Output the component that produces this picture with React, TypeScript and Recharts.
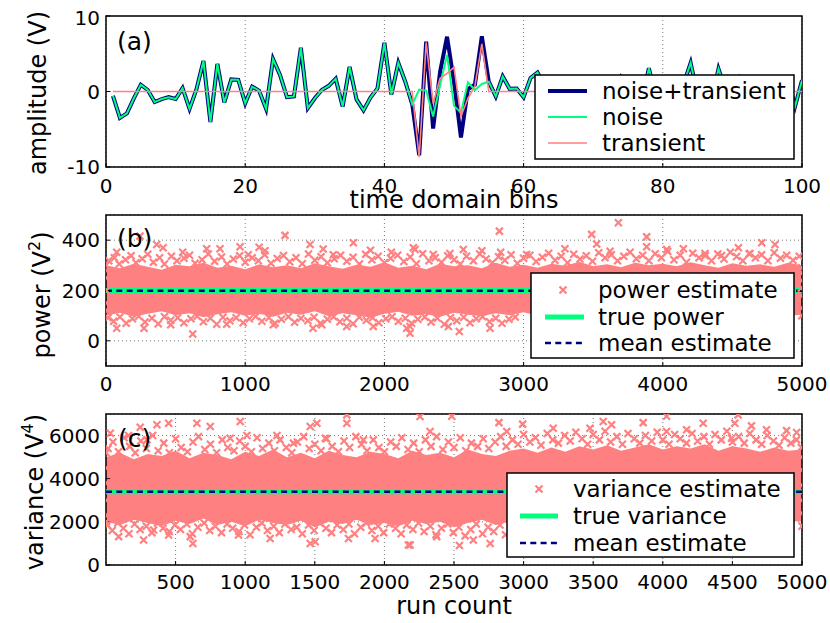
import { LineChart, Line, ComposedChart, Area, Scatter, XAxis, YAxis, CartesianGrid, ReferenceLine, ReferenceArea } from "recharts"

const FONT = "'DejaVu Sans', sans-serif"
const PINK = "#ff8080"
const NAVY = "#00007f"
const GREEN = "#00ff7f"

// (a) time domain bins 1..100
const noise = [
  -0.57, -3.5, -2.9, -0.9, 0.9, 0.2, -1.4, -1.0, -0.75, -1.0,
  0.45, -2.3, 0.3, 4.05, -4.05, 3.65, -1.45, 1.6, 1.55, -1.55,
  0.65, 0.1, -2.3, 4.3, 2.2, -0.75, -0.65, 5.8, -2.2, -0.9,
  0.2, 0.75, 1.7, -2.0, 3.25, -1.05, -2.5, -0.8, 0.4, 6.45,
  -0.4, 3.8, 1.3, -1.7, 0.25, 0.1, -3.3, 0.85, 4.85, -1.9,
  -2.8, 1.2, 0.2, 1.0, 1.3, -0.65, 2.0, 0.35, 0.4, -0.75,
  1.8, 2.5, 0.8, -1.2, 0.5, -0.6, 1.4, -1.8, 0.3, 1.1,
  -0.9, 0.6, -1.5, 1.7, -0.4, 0.9, -1.1, 3.1, -0.8, 1.2,
  -1.6, 0.4, 1.0, 3.8, -0.5, 1.3, -1.2, 3.0, 0.2, -1.4,
  1.6, -0.7, 0.8, -1.9, 1.1, 0.3, -1.0, 1.4, -2.0, 1.5,
]
const transient = [
  0, 0, 0, 0, 0, 0, 0, 0, 0, 0,
  0, 0, 0, 0, 0, 0, 0, 0, 0, 0,
  0, 0, 0, 0, 0, 0, 0, 0, 0, 0,
  0, 0, 0, 0, 0, 0, 0, 0, 0, 0,
  0, 0, 0, 0, -8.7, 6.5, -1.6, 1.75, 2.4, 3.2,
  -3.3, -0.9, 0.7, 6.3, 0, 0, 0, 0, 0, 0,
  0, 0, 0, 0, 0, 0, 0, 0, 0, 0,
  0, 0, 0, 0, 0, 0, 0, 0, 0, 0,
  0, 0, 0, 0, 0, 0, 0, 0, 0, 0,
  0, 0, 0, 0, 0, 0, 0, 0, 0, 0,
]
const binTicks = [0, 20, 40, 60, 80, 100]
const ampTicks = [-10, 0, 10]

// (b), (c) run count; saturated core of the cloud, read every 100 runs
const bandRuns = [
  0, 100, 200, 300, 400, 500, 600, 700, 800, 900, 1000, 1100, 1200, 1300, 1400, 1500, 1600, 1700, 1800, 1900,
  2000, 2100, 2200, 2300, 2400, 2500, 2600, 2700, 2800, 2900, 3000, 3100, 3200, 3300, 3400, 3500, 3600, 3700, 3800, 3900,
  4000, 4100, 4200, 4300, 4400, 4500, 4600, 4700, 4800, 4900, 5000,
]
const powerBandLow = [
  100, 112, 96, 108, 118, 102, 110, 94, 106, 114, 100, 108, 96, 112, 104, 118, 98, 110, 102, 92,
  108, 116, 100, 106, 96, 112, 104, 98, 110, 102, 114, 100, 108, 96, 104, 112, 100, 108, 98, 110,
  104, 96, 112, 100, 108, 102, 114, 98, 106, 100, 104,
]
const powerBandHigh = [
  300, 288, 306, 294, 282, 302, 296, 310, 290, 298, 284, 304, 292, 300, 288, 308, 296, 286, 302, 294,
  312, 290, 298, 284, 306, 296, 300, 288, 310, 294, 302, 290, 306, 298, 314, 296, 304, 292, 310, 300,
  306, 296, 312, 300, 290, 308, 298, 304, 294, 310, 300,
]
const varBandLow = [
  2000, 1850, 2100, 1950, 1800, 2050, 1900, 2150, 1850, 2000, 1800, 2100, 1950, 1850, 2050, 1750, 2000, 1900, 2100, 1850,
  1950, 1800, 2050, 1900, 2000, 1750, 1950, 2100, 1850, 2000, 1900, 2050, 1950, 2150, 1900, 2000, 1850, 2050, 1950, 2100,
  1900, 2000, 2150, 1950, 2050, 1900, 2100, 2000, 1950, 2050, 2000,
]
const varBandHigh = [
  5000, 5200, 4900, 5150, 5050, 5300, 4950, 5200, 5100, 4900, 5250, 5050, 5350, 5000, 5200, 4950, 5300, 5100, 5000, 5250,
  5150, 4950, 5300, 5100, 5200, 5000, 5350, 5150, 5050, 5300, 5400, 5200, 5450, 5250, 5500, 5350, 5550, 5300, 5450, 5600,
  5350, 5500, 5400, 5600, 5300, 5500, 5400, 5250, 5450, 5300, 5350,
]

const powerUpper = [
  [20, 318], [60, 330], [95, 305], [140, 322], [180, 338], [215, 310], [260, 326], [300, 344], [340, 312], [385, 330],
  [420, 305], [470, 336], [510, 318], [560, 328], [600, 340], [640, 308], [690, 322], [735, 345], [780, 316], [830, 333],
  [870, 305], [915, 325], [960, 338], [1000, 312], [1050, 330], [1095, 318], [1140, 342], [1185, 308], [1230, 327], [1275, 339],
  [1320, 314], [1365, 330], [1410, 306], [1455, 345], [1500, 320], [1545, 334], [1590, 310], [1640, 326], [1685, 340], [1730, 316],
  [1775, 332], [1820, 305], [1865, 344], [1910, 322], [1955, 336], [2000, 310], [2045, 328], [2095, 340], [2140, 315], [2185, 333],
  [2230, 306], [2275, 346], [2320, 318], [2365, 330], [2410, 312], [2455, 338], [2500, 322], [2545, 305], [2590, 336], [2640, 318],
  [2685, 345], [2730, 325], [2775, 310], [2820, 334], [2865, 320], [2910, 342], [2955, 308], [3000, 328], [3045, 340], [3090, 315],
  [3135, 332], [3180, 348], [3225, 320], [3270, 336], [3315, 310], [3360, 344], [3405, 325], [3450, 338], [3495, 316], [3540, 350],
  [3585, 330], [3630, 342], [3675, 318], [3720, 336], [3765, 352], [3810, 326], [3855, 340], [3900, 318], [3945, 346], [3990, 330],
  [4035, 355], [4080, 322], [4125, 340], [4170, 312], [4215, 348], [4260, 330], [4305, 338], [4350, 318], [4395, 345], [4440, 325],
  [4485, 352], [4530, 335], [4575, 318], [4620, 346], [4665, 330], [4710, 342], [4755, 318], [4800, 350], [4845, 328], [4890, 340],
  [4935, 320], [4980, 336],
]
const powerLower = [
  [15, 92], [55, 78], [100, 95], [145, 70], [190, 88], [235, 98], [280, 75], [330, 90], [375, 68], [420, 96],
  [465, 82], [515, 92], [560, 72], [610, 88], [655, 98], [700, 76], [750, 90], [795, 66], [840, 94], [890, 80],
  [935, 92], [985, 72], [1030, 88], [1075, 97], [1120, 78], [1170, 92], [1215, 70], [1260, 86], [1310, 96], [1355, 74],
  [1400, 90], [1450, 80], [1495, 94], [1540, 70], [1590, 86], [1635, 96], [1680, 76], [1730, 90], [1775, 68], [1820, 94],
  [1870, 82], [1915, 92], [1960, 72], [2010, 88], [2055, 96], [2100, 78], [2150, 90], [2195, 70], [2240, 86], [2290, 95],
  [2335, 75], [2380, 90], [2430, 66], [2475, 92], [2520, 80], [2570, 94], [2615, 72], [2660, 88], [2705, 96], [2755, 76],
  [2800, 90], [2845, 70], [2895, 86], [2940, 95],
]
const powerOutliers = [
  [77, 352], [244, 416], [364, 383], [410, 370], [551, 352], [723, 366], [819, 366], [963, 374], [1022, 342], [1100, 372],
  [1142, 358], [1286, 419], [1466, 383], [1560, 365], [1633, 342], [1777, 390], [1900, 360], [2050, 352], [2208, 370], [2220, 363],
  [2351, 343], [2471, 347], [2567, 363], [2700, 358], [2826, 436], [2835, 352], [3022, 343], [3297, 366], [3489, 423], [3525, 385],
  [3621, 356], [3681, 469], [3884, 413], [3884, 374], [4028, 363], [4148, 366], [4303, 347], [4422, 339], [4543, 370], [4626, 347],
  [4711, 390], [4806, 383],
  [77, 50], [273, 50], [465, 64], [623, 27], [867, 66], [1202, 64], [1487, 50], [1550, 64], [1729, 57], [1920, 57],
  [2160, 50], [2184, 30], [2184, 57], [2460, 57], [2538, 37], [2759, 50],
  [0, 300], [2, 250], [1, 200], [3, 150], [0, 120], [2, 280],
  [4996, 290], [4998, 240], [5000, 180], [4997, 130], [4999, 100], [5000, 270], [4995, 210],
]

const varUpper = [
  [15, 5400], [50, 5700], [90, 5250], [130, 5900], [170, 5500], [210, 5200], [250, 5750], [290, 5400], [335, 6000], [375, 5300],
  [415, 5650], [455, 5200], [500, 5850], [540, 5450], [585, 5250], [625, 5700], [665, 5950], [710, 5350], [750, 5600], [795, 5200],
  [835, 5800], [875, 5450], [920, 5300], [960, 5750], [1000, 5500], [1045, 5250], [1085, 5900], [1125, 5400], [1170, 5650], [1210, 5300],
  [1250, 5800], [1295, 5450], [1335, 5200], [1375, 5700], [1420, 5950], [1460, 5400], [1500, 5600], [1545, 5300], [1585, 5850], [1625, 5500],
  [1670, 5250], [1710, 5750], [1750, 5450], [1795, 5950], [1835, 5600], [1875, 5300], [1920, 5800], [1960, 5450], [2000, 5250], [2045, 5700],
  [2085, 5500], [2125, 5900], [2170, 5350], [2210, 5650], [2250, 5250], [2295, 5800], [2335, 5500], [2375, 5950], [2420, 5350], [2460, 5700],
  [2500, 5450], [2545, 5900], [2585, 5300], [2625, 5650], [2670, 5500], [2710, 5850], [2750, 5400], [2795, 5700], [2835, 5950], [2875, 5500],
  [2920, 5800], [2960, 5600], [3000, 6050], [3045, 5700], [3085, 5900], [3125, 5550], [3170, 6100], [3210, 5800], [3250, 5650], [3295, 6000],
  [3335, 5750], [3375, 6150], [3420, 5850], [3460, 5600], [3500, 6050], [3545, 5800], [3585, 6200], [3625, 5700], [3670, 5950], [3710, 5600],
  [3750, 6100], [3795, 5850], [3835, 5650], [3875, 6000], [3920, 5750], [3960, 6150], [4000, 5800], [4045, 5600], [4085, 6050], [4125, 5850],
  [4170, 5650], [4210, 6100], [4250, 5750], [4295, 5950], [4335, 5600], [4375, 6050], [4420, 5800], [4460, 6200], [4500, 5700], [4545, 5950],
  [4585, 5650], [4625, 6100], [4670, 5800], [4710, 5600], [4750, 6000], [4795, 5750], [4835, 5550], [4875, 5900], [4920, 5650], [4960, 5800],
  [4995, 5450],
]
const varLower = [
  [10, 1850], [45, 1600], [85, 1950], [125, 1700], [165, 1450], [205, 1900], [245, 1650], [290, 1800], [330, 1500], [370, 1950],
  [410, 1700], [455, 1550], [495, 1850], [535, 1650], [580, 1900], [620, 1450], [660, 1750], [705, 1950], [745, 1600], [785, 1800],
  [830, 1500], [870, 1900], [910, 1700], [955, 1550], [995, 1850], [1035, 1400], [1080, 1750], [1120, 1950], [1160, 1600], [1205, 1800],
  [1245, 1500], [1285, 1900], [1330, 1650], [1370, 1750], [1410, 1450], [1455, 1850], [1495, 1600], [1535, 1950], [1580, 1700], [1620, 1500],
  [1660, 1850], [1705, 1650], [1745, 1900], [1785, 1450], [1830, 1750], [1870, 1950], [1910, 1600], [1955, 1800], [1995, 1500], [2035, 1900],
  [2080, 1700], [2120, 1450], [2160, 1850], [2205, 1650], [2245, 1950], [2285, 1550], [2330, 1800], [2370, 1400], [2410, 1700], [2455, 1900],
  [2495, 1500], [2535, 1750], [2580, 1350], [2620, 1650], [2660, 1900], [2705, 1450], [2745, 1750], [2785, 1550], [2830, 1850], [2870, 1400],
]
const varOutliers = [
  [31, 6110], [162, 6000], [246, 6390], [294, 5800], [366, 6500], [450, 6575], [653, 6575], [749, 6420], [892, 5880], [964, 6650],
  [1012, 6000], [1228, 6000], [1347, 5650], [1467, 6420], [1515, 6575], [1575, 5880], [1730, 6575], [1730, 6960], [1849, 5800], [2256, 6880],
  [2328, 6190], [2484, 6900], [2823, 6600], [2879, 6190], [2993, 6530], [3213, 6340], [3477, 6340], [3572, 6650], [3632, 6500], [3859, 6600],
  [4027, 6900], [4027, 6190], [4171, 6270], [4290, 6575], [4494, 5880], [4517, 6575], [4541, 6960], [4637, 6450], [4745, 6270], [4889, 6230],
  [4961, 6140],
  [91, 1315], [270, 1160], [342, 1620], [450, 1390], [605, 1315], [624, 1000], [952, 1390], [1179, 1230], [1467, 1000], [1503, 1080],
  [1742, 1230], [1933, 1230], [2172, 930], [2185, 930], [2376, 1315], [2539, 900], [2639, 1160], [2760, 1000],
  [0, 5200], [2, 4500], [1, 3800], [3, 3000], [0, 2300], [2, 2000],
  [4996, 5000], [4998, 4400], [5000, 3700], [4997, 3000], [4999, 2400], [5000, 1800],
]

const truePower = 200
const meanPower = 199.5
const trueVariance = 3400
const meanVariance = 3395
const runTicksB = [0, 1000, 2000, 3000, 4000, 5000]
const runTicksC = [500, 1000, 1500, 2000, 2500, 3000, 3500, 4000, 4500, 5000]
const powerTicks = [0, 200, 400]
const varTicks = [0, 2000, 4000, 6000]

const waveData = noise.map((n, i) => ({ bin: i + 1, noise: n, transient: transient[i], both: n + transient[i] }))
const powerBand = bandRuns.map((run, i) => ({ run, band: [powerBandLow[i], powerBandHigh[i]] }))
const varBand = bandRuns.map((run, i) => ({ run, band: [varBandLow[i], varBandHigh[i]] }))
const toPoints = (list: number[][]) => list.map(([run, value]) => ({ run, value }))
const powerPoints = toPoints([...powerUpper, ...powerLower, ...powerOutliers])
const varPoints = toPoints([...varUpper, ...varLower, ...varOutliers])

const tickStyle = { fontSize: 20, fill: "#000", fontFamily: FONT }
const tickLine = { stroke: "#000", strokeWidth: 1 }
const noTick = () => <g />
const grid = <CartesianGrid stroke="#777" strokeDasharray="1 3" fill="none" />

const XMark = (props: any) => {
  const { cx, cy } = props
  if (cx == null || cy == null) return <g />
  const r = 3.5
  return (
    <path
      d={`M${cx - r},${cy - r}L${cx + r},${cy + r}M${cx - r},${cy + r}L${cx + r},${cy - r}`}
      stroke={PINK}
      strokeWidth={2.2}
      fill="none"
    />
  )
}

const LegendMark = ({ x, y }: { x: number; y: number }) => (
  <path d={`M${x - 3.5},${y - 3.5}L${x + 3.5},${y + 3.5}M${x - 3.5},${y + 3.5}L${x + 3.5},${y - 3.5}`} stroke={PINK} strokeWidth={2.2} />
)

const margin = { top: 10, right: 28, bottom: 0, left: 46 }

// inward tick marks on the top and right frame edges
const mirrorAxes = (xDomain: number[], xTicks: number[], yDomain: number[], yTicks: number[]) => [
  <XAxis key="xt" xAxisId="top" orientation="top" type="number" domain={xDomain} ticks={xTicks} height={0} axisLine={false} tickLine={tickLine} tickSize={-4} tick={noTick} allowDataOverflow />,
  <YAxis key="yr" yAxisId="right" orientation="right" type="number" domain={yDomain} ticks={yTicks} width={0} axisLine={false} tickLine={tickLine} tickSize={-4} tick={noTick} allowDataOverflow />,
]

export default function App() {
  return (
    <div style={{ position: "absolute", left: 0, top: 0, width: 830, height: 623, background: "#fff", fontFamily: FONT }}>
      <div style={{ position: "absolute", left: 0, top: 6 }}>
        <LineChart width={830} height={201} data={waveData} margin={margin}>
          {grid}
          <XAxis type="number" dataKey="bin" domain={[0, 100]} ticks={binTicks} height={40} axisLine={false} tickLine={tickLine} tickSize={-4} tickMargin={16} tick={tickStyle} allowDataOverflow />
          <YAxis type="number" domain={[-10, 10]} ticks={ampTicks} width={60} axisLine={false} tickLine={tickLine} tickSize={-4} tickMargin={10} tick={tickStyle} allowDataOverflow />
          {mirrorAxes([0, 100], binTicks, [-10, 10], ampTicks)}
          <Line type="linear" dataKey="both" stroke={NAVY} strokeWidth={4} dot={false} isAnimationActive={false} />
          <Line type="linear" dataKey="noise" stroke={GREEN} strokeWidth={2} dot={false} isAnimationActive={false} />
          <Line type="linear" dataKey="transient" stroke={PINK} strokeWidth={1.6} dot={false} isAnimationActive={false} />
          <ReferenceArea x1={0} x2={100} y1={-10} y2={10} fill="none" stroke="#000" strokeWidth={1.5} ifOverflow="visible" />
        </LineChart>
      </div>

      <div style={{ position: "absolute", left: 0, top: 205 }}>
        <ComposedChart width={830} height={201} data={powerBand} margin={margin}>
          {grid}
          <XAxis type="number" dataKey="run" domain={[0, 5000]} ticks={runTicksB} height={40} axisLine={false} tickLine={tickLine} tickSize={-4} tickMargin={15} tick={tickStyle} allowDataOverflow />
          <YAxis type="number" domain={[-100, 500]} ticks={powerTicks} width={60} axisLine={false} tickLine={tickLine} tickSize={-4} tickMargin={10} tick={tickStyle} allowDataOverflow />
          {mirrorAxes([0, 5000], runTicksB, [-100, 500], powerTicks)}
          <Area type="linear" dataKey="band" stroke="none" fill={PINK} fillOpacity={1} isAnimationActive={false} />
          <Scatter data={powerPoints} dataKey="value" fill={PINK} shape={XMark} isAnimationActive={false} />
          <ReferenceLine y={truePower} stroke={GREEN} strokeWidth={5} />
          <ReferenceLine y={meanPower} stroke={NAVY} strokeWidth={2.5} strokeDasharray="6 4.3" />
          <ReferenceArea x1={0} x2={5000} y1={-100} y2={500} fill="none" stroke="#000" strokeWidth={1.5} ifOverflow="visible" />
        </ComposedChart>
      </div>

      <div style={{ position: "absolute", left: 0, top: 404 }}>
        <ComposedChart width={830} height={216} data={varBand} margin={margin}>
          {grid}
          <XAxis type="number" dataKey="run" domain={[0, 5000]} ticks={runTicksC} height={55} axisLine={false} tickLine={tickLine} tickSize={-4} tickMargin={14} tick={tickStyle} allowDataOverflow />
          <YAxis type="number" domain={[0, 7000]} ticks={varTicks} width={60} axisLine={false} tickLine={tickLine} tickSize={-4} tickMargin={10} tick={tickStyle} allowDataOverflow />
          {mirrorAxes([0, 5000], runTicksC, [0, 7000], varTicks)}
          <Area type="linear" dataKey="band" stroke="none" fill={PINK} fillOpacity={1} isAnimationActive={false} />
          <Scatter data={varPoints} dataKey="value" fill={PINK} shape={XMark} isAnimationActive={false} />
          <ReferenceLine y={trueVariance} stroke={GREEN} strokeWidth={5} />
          <ReferenceLine y={meanVariance} stroke={NAVY} strokeWidth={2.5} strokeDasharray="6 4.3" />
          <ReferenceArea x1={0} x2={5000} y1={0} y2={7000} fill="none" stroke="#000" strokeWidth={1.5} ifOverflow="visible" />
        </ComposedChart>
      </div>

      <svg width={830} height={623} style={{ position: "absolute", left: 0, top: 0, pointerEvents: "none" }} fontFamily={FONT}>
        {/* panel tags */}
        <text x={117} y={41} fontSize={25} dominantBaseline="central">(a)</text>
        <text x={117} y={238} fontSize={25} dominantBaseline="central">(b)</text>
        <text x={118} y={438} fontSize={25} dominantBaseline="central">(c)</text>

        {/* axis titles */}
        <text transform="translate(46,93) rotate(-90)" fontSize={24} textAnchor="middle">amplitude (V)</text>
        <text transform="translate(50,295) rotate(-90)" fontSize={24} textAnchor="middle">
          power (V<tspan dy={-10} fontSize={16}>2</tspan><tspan dy={10}>)</tspan>
        </text>
        <text transform="translate(43,492) rotate(-90)" fontSize={24} textAnchor="middle">
          variance (V<tspan dy={-10} fontSize={16}>4</tspan><tspan dy={10}>)</tspan>
        </text>
        <text x={454} y={208} fontSize={24} textAnchor="middle">time domain bins</text>
        <text x={454} y={614} fontSize={24} textAnchor="middle">run count</text>

        {/* legend (a) */}
        <rect x={535} y={75} width={259} height={84} fill="#fff" stroke="#000" strokeWidth={1.5} />
        <line x1={548} x2={587} y1={91} y2={91} stroke={NAVY} strokeWidth={4} />
        <line x1={548} x2={587} y1={117} y2={117} stroke={GREEN} strokeWidth={2} />
        <line x1={548} x2={587} y1={143} y2={143} stroke={PINK} strokeWidth={1.6} />
        <text x={602} y={91} fontSize={23} dominantBaseline="central">noise+transient</text>
        <text x={602} y={117} fontSize={23} dominantBaseline="central">noise</text>
        <text x={602} y={143} fontSize={23} dominantBaseline="central">transient</text>

        {/* legend (b) */}
        <rect x={531} y={273} width={263} height={85} fill="#fff" stroke="#000" strokeWidth={1.5} />
        <LegendMark x={563} y={290} />
        <line x1={545} x2={584} y1={317} y2={317} stroke={GREEN} strokeWidth={5} />
        <line x1={545} x2={584} y1={343} y2={343} stroke={NAVY} strokeWidth={2.5} strokeDasharray="6 4.3" />
        <text x={598} y={290} fontSize={23} dominantBaseline="central">power estimate</text>
        <text x={598} y={317} fontSize={23} dominantBaseline="central">true power</text>
        <text x={598} y={343} fontSize={23} dominantBaseline="central">mean estimate</text>

        {/* legend (c) */}
        <rect x={507} y={473} width={287} height={84} fill="#fff" stroke="#000" strokeWidth={1.5} />
        <LegendMark x={539} y={489} />
        <line x1={520} x2={558} y1={516} y2={516} stroke={GREEN} strokeWidth={5} />
        <line x1={520} x2={558} y1={543} y2={543} stroke={NAVY} strokeWidth={2.5} strokeDasharray="6 4.3" />
        <text x={573} y={489} fontSize={23} dominantBaseline="central">variance estimate</text>
        <text x={573} y={516} fontSize={23} dominantBaseline="central">true variance</text>
        <text x={573} y={543} fontSize={23} dominantBaseline="central">mean estimate</text>
      </svg>
    </div>
  )
}
